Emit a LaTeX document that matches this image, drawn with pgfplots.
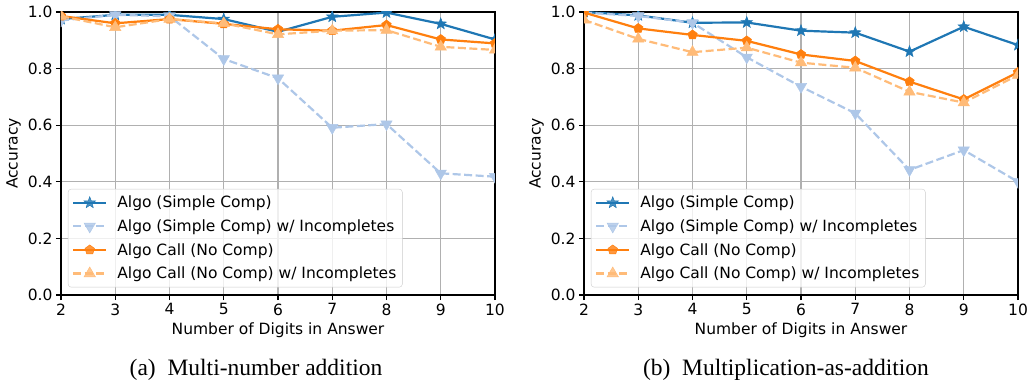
\documentclass[border=0pt]{standalone}
\usepackage{fontspec}
\setmainfont{DejaVu Sans}
\newfontfamily\capfont{Liberation Serif}
\usepackage{pgfplots}
\pgfplotsset{compat=1.18}
\usetikzlibrary{plotmarks}
\definecolor{cA}{HTML}{1F77B4}
\definecolor{cAi}{HTML}{AEC7E8}
\definecolor{cC}{HTML}{FF7F0E}
\definecolor{cCi}{HTML}{FFBB78}
\definecolor{gridc}{HTML}{B0B0B0}
\pgfdeclareplotmark{fstar}{%
 \pgfpathmoveto{\pgfpointpolar{90}{\pgfplotmarksize}}%
 \pgfpathlineto{\pgfpointpolar{126}{0.42\pgfplotmarksize}}%
 \pgfpathlineto{\pgfpointpolar{162}{\pgfplotmarksize}}%
 \pgfpathlineto{\pgfpointpolar{198}{0.42\pgfplotmarksize}}%
 \pgfpathlineto{\pgfpointpolar{234}{\pgfplotmarksize}}%
 \pgfpathlineto{\pgfpointpolar{270}{0.42\pgfplotmarksize}}%
 \pgfpathlineto{\pgfpointpolar{306}{\pgfplotmarksize}}%
 \pgfpathlineto{\pgfpointpolar{342}{0.42\pgfplotmarksize}}%
 \pgfpathlineto{\pgfpointpolar{18}{\pgfplotmarksize}}%
 \pgfpathlineto{\pgfpointpolar{54}{0.42\pgfplotmarksize}}%
 \pgfpathclose
 \pgfusepathqfillstroke}
\newcommand{\fs}{\fontsize{15.5}{18}\selectfont}
\pgfplotsset{
 myax/.style={
  scale only axis, width=434pt, height=283pt, anchor=south west,
  xmin=2, xmax=10, ymin=0, ymax=1,
  xtick={2,3,4,5,6,7,8,9,10},
  xticklabels={2,3,4,5,6,7,8,9,10},
  ytick={0,0.2,0.4,0.6,0.8,1},
  yticklabels={0.0,0.2,0.4,0.6,0.8,1.0},
  tick label style={font=\fs},
  label style={font=\fs},
  xlabel={Number of Digits in Answer},
  ylabel={Accuracy},
  xlabel style={yshift=-1pt},
  grid=major,
  major grid style={color=gridc, line width=1.2pt},
  axis line style={line width=1.2pt, black},
  tick style={black, line width=1.2pt},
  major tick length=5pt,
  tick align=outside,
  xtick pos=left, ytick pos=left,
  clip marker paths=true,
  legend cell align=left,
  legend style={font=\fs, draw=black!20, rounded corners=3pt, fill=white, fill opacity=0.8, text opacity=1,
    inner xsep=4pt, inner ysep=5pt, row sep=6.3pt,
    at={(0.016,0.027)}, anchor=south west},
  legend image code/.code={\draw[mark repeat=2,mark phase=2,##1] plot coordinates {(0pt,0pt) (16.5pt,0pt) (33pt,0pt)};\path (41pt,0pt);},
 },
 sA/.style={color=cA, line width=2.2pt, mark=fstar, mark size=6pt, mark options={solid, line width=0.5pt}},
 sAi/.style={color=cAi, line width=2.2pt, dash pattern=on 8pt off 3.5pt, mark=triangle*, mark size=6.5pt, mark options={solid, rotate=180, line width=0.5pt}},
 sC/.style={color=cC, line width=2.2pt, mark=pentagon*, mark size=5pt, mark options={solid, line width=0.5pt}},
 sCi/.style={color=cCi, line width=2.2pt, dash pattern=on 8pt off 3.5pt, mark=triangle*, mark size=6.5pt, mark options={solid, line width=0.5pt}},
}
\begin{document}
\begin{tikzpicture}[x=1pt,y=1pt]
\useasboundingbox (0,0) rectangle (1029,381);
\begin{axis}[myax, at={(61pt,86pt)}]
\addplot[sA] coordinates {(2,0.975)(3,0.99)(4,0.99)(5,0.975)(6,0.93)(7,0.983)(8,0.998)(9,0.958)(10,0.903)};
\addlegendentry{Algo (Simple Comp)}
\addplot[sAi] coordinates {(2,0.97)(3,0.99)(4,0.985)(5,0.834)(6,0.766)(7,0.591)(8,0.604)(9,0.43)(10,0.418)};
\addlegendentry{Algo (Simple Comp) w/ Incompletes}
\addplot[sC] coordinates {(2,0.986)(3,0.96)(4,0.975)(5,0.958)(6,0.939)(7,0.934)(8,0.954)(9,0.903)(10,0.889)};
\addlegendentry{Algo Call (No Comp)}
\addplot[sCi] coordinates {(2,0.985)(3,0.946)(4,0.975)(5,0.96)(6,0.921)(7,0.934)(8,0.936)(9,0.877)(10,0.866)};
\addlegendentry{Algo Call (No Comp) w/ Incompletes}
\end{axis}
\begin{axis}[myax, at={(584pt,86pt)}]
\addplot[sA] coordinates {(2,1.0)(3,0.988)(4,0.962)(5,0.963)(6,0.934)(7,0.927)(8,0.860)(9,0.948)(10,0.883)};
\addlegendentry{Algo (Simple Comp)}
\addplot[sAi] coordinates {(2,0.998)(3,0.986)(4,0.962)(5,0.84)(6,0.736)(7,0.642)(8,0.442)(9,0.512)(10,0.40)};
\addlegendentry{Algo (Simple Comp) w/ Incompletes}
\addplot[sC] coordinates {(2,0.998)(3,0.942)(4,0.919)(5,0.898)(6,0.85)(7,0.827)(8,0.754)(9,0.691)(10,0.787)};
\addlegendentry{Algo Call (No Comp)}
\addplot[sCi] coordinates {(2,0.972)(3,0.905)(4,0.858)(5,0.874)(6,0.821)(7,0.803)(8,0.718)(9,0.68)(10,0.777)};
\addlegendentry{Algo Call (No Comp) w/ Incompletes}
\end{axis}
\node[font=\capfont\fontsize{23.5}{27}\selectfont] at (256,11) {(a)\ \ Multi-number addition};
\node[font=\capfont\fontsize{23.5}{27}\selectfont] at (786,11) {(b)\ \ Multiplication-as-addition};
\end{tikzpicture}
\end{document}
